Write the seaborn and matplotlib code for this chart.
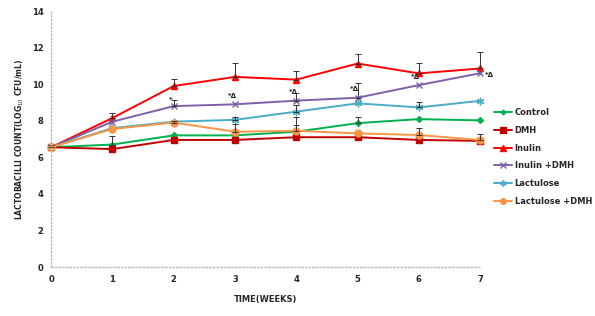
import numpy as np
import pandas as pd
import matplotlib
matplotlib.use("Agg")
import matplotlib.pyplot as plt
import seaborn as sns

weeks = [0, 1, 2, 3, 4, 5, 6, 7]
groups = ["Control", "DMH", "Inulin", "Inulin +DMH", "Lactulose", "Lactulose +DMH"]

control = [6.55, 6.7, 7.2, 7.2, 7.4, 7.87, 8.09, 8.02]
dmh = [6.55, 6.45, 6.95, 6.95, 7.1, 7.1, 6.95, 6.9]
inulin = [6.55, 8.15, 9.9, 10.4, 10.25, 11.13, 10.59, 10.86]
inulin_dmh = [6.55, 7.95, 8.8, 8.9, 9.1, 9.26, 9.95, 10.6]
lactulose = [6.55, 7.6, 7.95, 8.05, 8.5, 8.95, 8.73, 9.09]
lactulose_dmh = [6.55, 7.55, 7.9, 7.4, 7.45, 7.31, 7.22, 6.95]

# upper error bars only
err_control = [0.15, 0.45, 0, 0, 0.35, 0.35, 0, 0]
err_dmh = [0.15, 0, 0, 0, 0, 0, 0, 0]
err_inulin = [0.15, 0.3, 0.38, 0.75, 0.45, 0.5, 0.55, 0.9]
err_inulin_dmh = [0.15, 0, 0.35, 0, 0.4, 0.8, 0, 0]
err_lactulose = [0.15, 0, 0, 0.15, 0.35, 0, 0.3, 0]
err_lactulose_dmh = [0.15, 0, 0.1, 0.4, 0.75, 0, 0.4, 0.35]

sig_weeks = [2, 3, 4, 5, 6, 7]
sig_labels = ["*", "*\u0394", "*\u0394", "*\u0394", "*\u0394", "*\u0394"]

values = [control, dmh, inulin, inulin_dmh, lactulose, lactulose_dmh]
errs = [err_control, err_dmh, err_inulin, err_inulin_dmh, err_lactulose, err_lactulose_dmh]

colors = ["#00B050", "#C00000", "#FF0000", "#7F60A8", "#4BACC6", "#F79646"]
markers = ["D", "s", "^", "x", (6, 2, 0), "o"]
msizes = [3, 5, 5, 5, 5.5, 5]

rows = []
for g, vals in zip(groups, values):
    for w, v in zip(weeks, vals):
        rows.append({"week": w, "count": v, "group": g})
df = pd.DataFrame(rows)

sns.set_style("white")
plt.rcParams["font.family"] = ["DejaVu Sans"]

fig = plt.figure(figsize=(5.95, 3.16), dpi=100)
ax = fig.add_axes([0.086, 0.155, 0.721, 0.81])

for g, vals, e, c, m, ms in zip(groups, values, errs, colors, markers, msizes):
    sub = df[df.group == g]
    sns.lineplot(data=sub, x="week", y="count", color=c, marker=m, markersize=ms,
                 markeredgecolor=c, markeredgewidth=1.0, linewidth=1.4, label=g,
                 ax=ax, clip_on=False)
    e = np.array(e)
    keep = e > 0
    ax.errorbar(np.array(weeks)[keep], np.array(vals)[keep],
                yerr=[np.zeros(keep.sum()), e[keep]], fmt="none",
                ecolor="#333333", elinewidth=0.7, capsize=2.2, capthick=0.7,
                clip_on=False)

for w, lab in zip(sig_weeks, sig_labels):
    v = inulin_dmh[weeks.index(w)]
    if w == 7:
        ax.text(w + 0.08, v - 0.1, lab, fontsize=5, fontweight="bold", ha="left", va="center")
    elif w == 2:
        ax.text(w - 0.05, v + 0.35, lab, fontsize=5, fontweight="bold", ha="center", va="center")
    else:
        ax.text(w - 0.05, v + 0.45, lab, fontsize=5, fontweight="bold", ha="center", va="center")

ax.set_xlim(0, 7)
ax.set_ylim(0, 14)
ax.set_xticks(weeks)
ax.set_yticks(range(0, 15, 2))
ax.tick_params(axis="both", labelsize=6, length=2, color="#bbbbbb")
for t in ax.get_xticklabels() + ax.get_yticklabels():
    t.set_fontweight("bold")
for s in ["top", "right"]:
    ax.spines[s].set_visible(False)
for s in ["left", "bottom"]:
    ax.spines[s].set_color("#bbbbbb")
    ax.spines[s].set_linestyle(":")
    ax.spines[s].set_linewidth(1.0)

ax.set_xlabel("TIME(WEEKS)", fontsize=6, fontweight="bold", labelpad=8)
ax.set_ylabel("LACTOBACILLI COUNT(LOG$_{10}$ CFU/mL)", fontsize=5.5, fontweight="bold")

ax.legend(loc="center left", bbox_to_anchor=(1.02, 0.43), frameon=False,
          fontsize=6, handlelength=2.2, handletextpad=0.3, labelspacing=1.05,
          borderaxespad=0.2, markerscale=0.8)
for t in ax.get_legend().get_texts():
    t.set_fontweight("bold")

fig.savefig("out.png", dpi=100)
